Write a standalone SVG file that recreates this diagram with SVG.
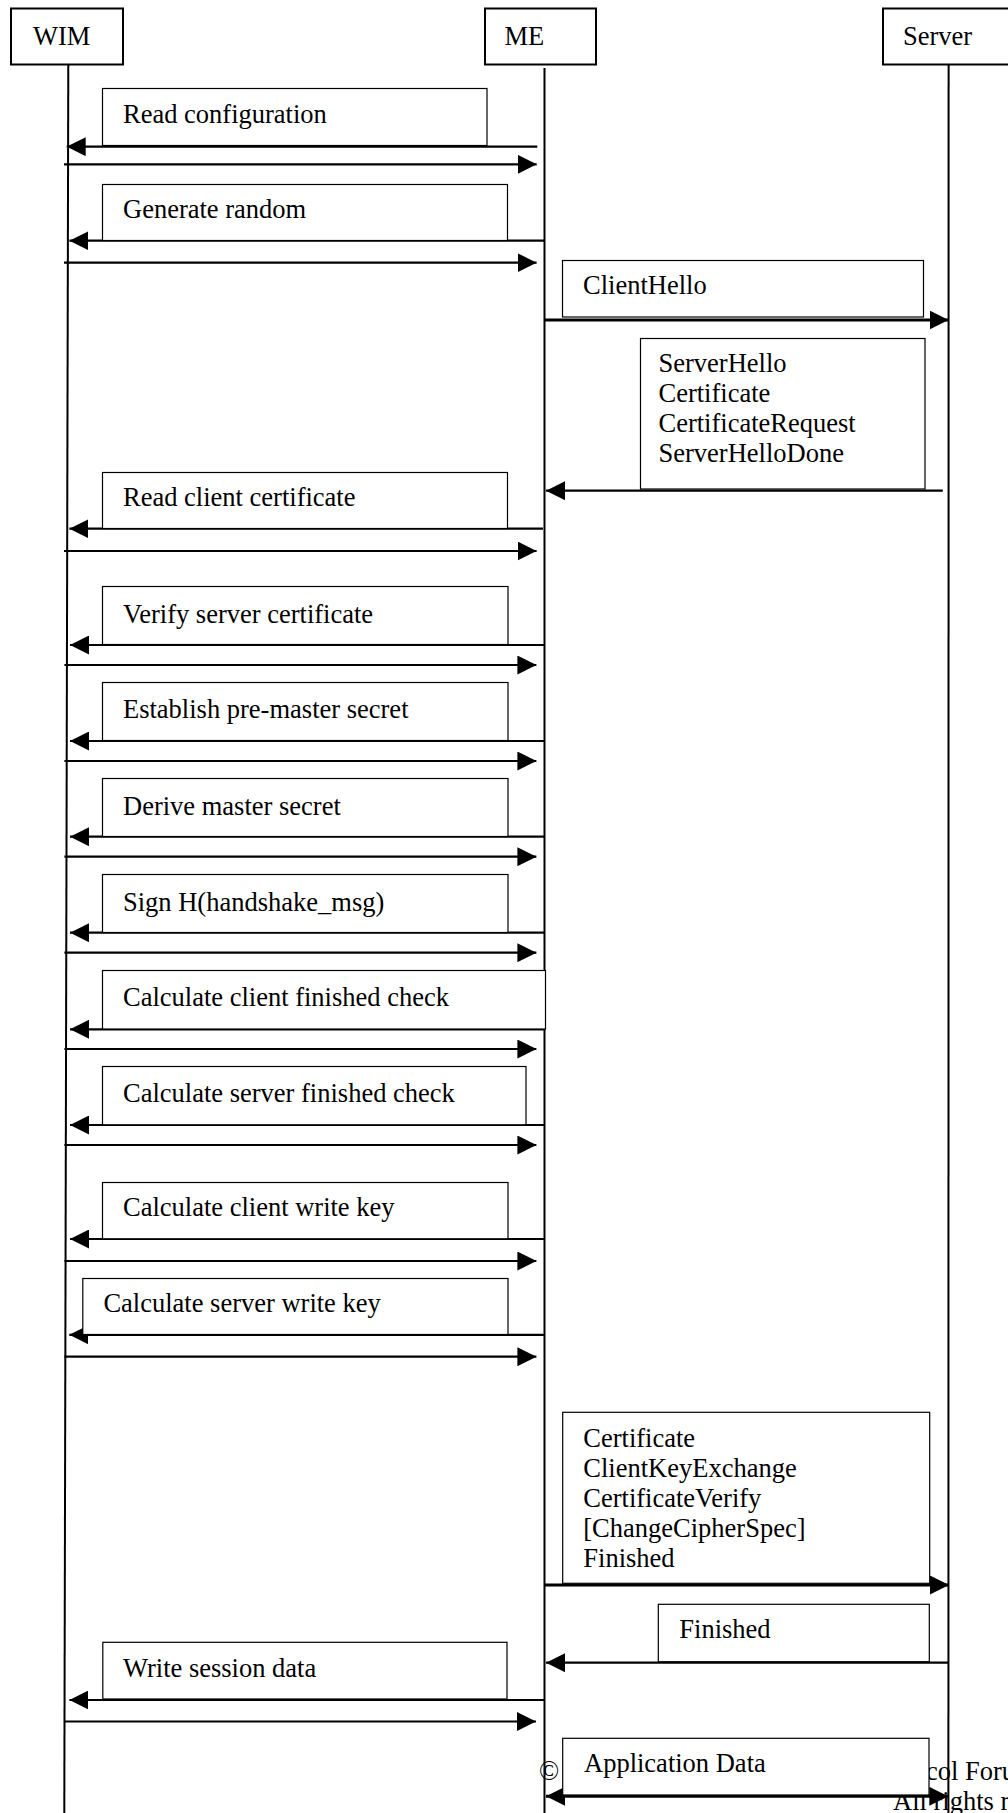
<svg xmlns="http://www.w3.org/2000/svg" width="1008" height="1813" viewBox="0 0 1008 1813">
<style>
text{font-family:"Liberation Serif","Times New Roman",serif;font-size:26.5px;fill:#000}
.hdr{fill:#fff;stroke:#000;stroke-width:2}
.box{fill:#fff;stroke:#000;stroke-width:1.2}
.life{stroke:#000;stroke-width:2;fill:none}
.msg{stroke:#000;stroke-width:2.2;fill:none;marker-end:url(#ah)}
.dbl{stroke:#000;stroke-width:2.2;fill:none;marker-end:url(#ah);marker-start:url(#ah)}
</style>
<defs>
<marker id="ah" viewBox="0 0 19 19" refX="19" refY="9.5" markerWidth="19" markerHeight="19" markerUnits="userSpaceOnUse" orient="auto-start-reverse">
<path d="M0,0 L19,9.5 L0,19 z" fill="#000"/>
</marker>
</defs>
<rect width="1008" height="1813" fill="#fff"/>
<g id="lifelines">
<line class="life" x1="68.3" y1="61" x2="64.3" y2="1813"/>
<line class="life" x1="544.5" y1="68" x2="544.5" y2="1813"/>
<line class="life" x1="948.6" y1="61" x2="948.4" y2="1813"/>
</g>
<g id="connectors">
<line class="msg" x1="537.3" y1="146.7" x2="66.7" y2="146.7"/>
<line class="msg" x1="64" y1="164.3" x2="536.7" y2="164.3"/>
<line class="msg" x1="544" y1="240.7" x2="69.4" y2="240.7"/>
<line class="msg" x1="64" y1="262.7" x2="536.6" y2="262.7"/>
<line class="msg" x1="545" y1="320" x2="948.6" y2="320" style="stroke-width:3"/>
<line class="msg" x1="942.8" y1="490.7" x2="546" y2="490.7"/>
<line class="msg" x1="543" y1="528.7" x2="69.4" y2="528.7"/>
<line class="msg" x1="64" y1="551" x2="536.6" y2="551"/>
<line class="msg" x1="544.5" y1="645" x2="70" y2="645"/>
<line class="msg" x1="64.4" y1="665" x2="536.4" y2="665"/>
<line class="msg" x1="544.5" y1="741" x2="70" y2="741"/>
<line class="msg" x1="64.4" y1="761" x2="536.4" y2="761"/>
<line class="msg" x1="544.5" y1="836.7" x2="70" y2="836.7"/>
<line class="msg" x1="64.4" y1="856.7" x2="536.4" y2="856.7"/>
<line class="msg" x1="544.5" y1="932.7" x2="70" y2="932.7"/>
<line class="msg" x1="64.4" y1="952.7" x2="536.4" y2="952.7"/>
<line class="msg" x1="544.5" y1="1029.3" x2="70" y2="1029.3"/>
<line class="msg" x1="64.4" y1="1049" x2="536.4" y2="1049"/>
<line class="msg" x1="544.5" y1="1125" x2="70" y2="1125"/>
<line class="msg" x1="64.4" y1="1145" x2="536.4" y2="1145"/>
<line class="msg" x1="544.5" y1="1239" x2="70" y2="1239"/>
<line class="msg" x1="64.4" y1="1261" x2="536.4" y2="1261"/>
<line class="msg" x1="544.5" y1="1334.8" x2="69.3" y2="1334.8"/>
<line class="msg" x1="64.4" y1="1356.7" x2="536.4" y2="1356.7"/>
<line class="msg" x1="545" y1="1585" x2="949" y2="1585" style="stroke-width:3"/>
<line class="msg" x1="948" y1="1662.7" x2="546" y2="1662.7"/>
<line class="msg" x1="544" y1="1700" x2="69.4" y2="1700"/>
<line class="msg" x1="64" y1="1721.5" x2="536" y2="1721.5"/>
<line class="dbl" x1="546" y1="1796.3" x2="948.3" y2="1796.3" style="stroke-width:3"/>
</g>
<g id="footer">
<text x="539" y="1780">©</text>
<text x="926" y="1780">col Foru</text>
<text x="893" y="1810">All rights r</text>
</g>
<g id="wim"><rect class="hdr" x="11" y="8.5" width="112" height="56"/><text x="33" y="45">WIM</text></g>
<g id="me"><rect class="hdr" x="485" y="8.5" width="111" height="56"/><text x="504.5" y="45">ME</text></g>
<g id="server"><rect class="hdr" x="883" y="8.5" width="140" height="56"/><text x="903" y="45">Server</text></g>
<g id="read-configuration"><rect class="box" x="102.5" y="88.5" width="384.5" height="57"/><text x="123" y="123">Read configuration</text></g>
<g id="generate-random"><rect class="box" x="102.5" y="184.5" width="405" height="56"/><text x="123" y="218">Generate random</text></g>
<g id="client-hello"><rect class="box" x="562.5" y="260.5" width="361" height="56.5"/><text x="583" y="294">ClientHello</text></g>
<g id="server-hello"><rect class="box" x="640.5" y="338.5" width="284.5" height="150.5"/>
<text x="658.5" y="371.7">ServerHello</text>
<text x="658.5" y="401.7">Certificate</text>
<text x="658.5" y="431.7">CertificateRequest</text>
<text x="658.5" y="461.7">ServerHelloDone</text></g>
<g id="read-client-certificate"><rect class="box" x="102.5" y="472.5" width="405" height="56"/><text x="123" y="506">Read client certificate</text></g>
<g id="verify-server-certificate"><rect class="box" x="102.5" y="586.5" width="405.5" height="58"/><text x="123" y="622.7">Verify server certificate</text></g>
<g id="establish-pre-master-secret"><rect class="box" x="102.5" y="682.5" width="405.5" height="58"/><text x="123" y="718.3">Establish pre-master secret</text></g>
<g id="derive-master-secret"><rect class="box" x="102.5" y="778.5" width="405.5" height="58"/><text x="123" y="815">Derive master secret</text></g>
<g id="sign-handshake"><rect class="box" x="102.5" y="874.5" width="405.5" height="58"/><text x="123" y="910.7">Sign H(handshake_msg)</text></g>
<g id="client-finished-check"><rect class="box" x="102.5" y="970.5" width="443" height="58.5"/><text x="123" y="1006">Calculate client finished check</text></g>
<g id="server-finished-check"><rect class="box" x="102.5" y="1066.5" width="423.5" height="58.3"/><text x="123" y="1101.7">Calculate server finished check</text></g>
<g id="client-write-key"><rect class="box" x="102.5" y="1182.5" width="405.5" height="56.3"/><text x="123" y="1216">Calculate client write key</text></g>
<g id="server-write-key"><rect class="box" x="82.8" y="1278.5" width="425.2" height="56"/><text x="103.4" y="1311.7">Calculate server write key</text></g>
<g id="client-handshake"><rect class="box" x="562.7" y="1412.3" width="367" height="171"/>
<text x="583.3" y="1446.7">Certificate</text>
<text x="583.3" y="1476.7">ClientKeyExchange</text>
<text x="583.3" y="1506.7">CertificateVerify</text>
<text x="583.3" y="1536.7">[ChangeCipherSpec]</text>
<text x="583.3" y="1566.7">Finished</text></g>
<g id="server-finished"><rect class="box" x="658.3" y="1604.3" width="271" height="57.4"/><text x="679.3" y="1638.3">Finished</text></g>
<g id="write-session-data"><rect class="box" x="102.8" y="1642.3" width="404.2" height="56.7"/><text x="123" y="1676.7">Write session data</text></g>
<g id="application-data"><rect class="box" x="562.7" y="1738.3" width="366.3" height="56.7"/><text x="584" y="1771.7">Application Data</text></g>
</svg>
